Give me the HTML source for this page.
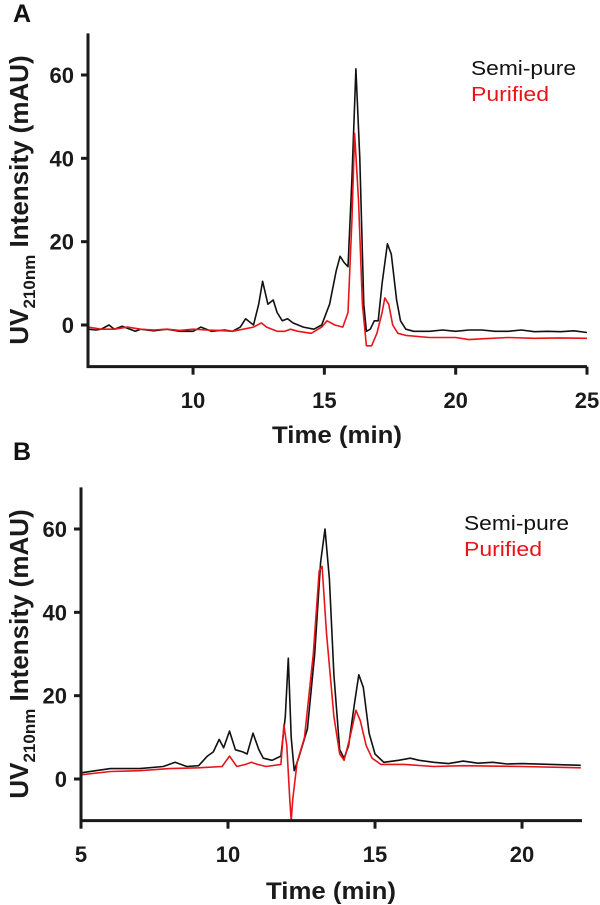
<!DOCTYPE html>
<html><head><meta charset="utf-8"><style>
body{margin:0;background:#fff}
svg{display:block;font-family:"Liberation Sans",Arial,sans-serif}
</style></head><body>
<svg id="c" width="600" height="905" viewBox="0 0 600 905" xmlns="http://www.w3.org/2000/svg"></svg>
<script>
// Panel A data
const aSemiT=[6.0,6.3,6.5,6.8,7.0,7.3,7.5,7.8,8,8.5,9,9.5,10,10.3,10.7,11.2,11.5,11.8,12.0,12.3,12.5,12.65,12.85,13.05,13.2,13.4,13.6,13.8,14.0,14.2,14.6,14.9,15.2,15.45,15.6,15.75,15.9,16.05,16.2,16.35,16.5,16.6,16.75,16.9,17.05,17.2,17.4,17.55,17.75,17.9,18.1,18.4,19,19.5,20,20.5,21,21.5,22,22.5,23,23.5,24,24.5,25];
const aSemiV=[-1,-1.2,-1,0,-1,-0.3,-0.8,-1.5,-1,-1.4,-1,-1.5,-1.5,-0.5,-1.5,-1.2,-1.5,-0.5,1.5,0,5,10.5,5,6,3,1,1.5,0.5,0,-0.5,-1,0,5,13,16.5,15,14,35,61.5,40,5,-1.5,-1,1,1,10,19.5,17,6,1,-1,-1.5,-1.5,-1.2,-1.5,-1.2,-1.2,-1.5,-1.5,-1.2,-1.6,-1.5,-1.6,-1.4,-1.8];
const aPurT=[6,6.5,7,7.5,8,8.5,9,9.5,10,10.5,11,11.5,12.3,12.6,12.8,13.2,13.5,13.7,14.0,14.5,14.9,15.1,15.4,15.7,15.9,16.05,16.15,16.3,16.45,16.6,16.8,17.0,17.2,17.3,17.45,17.6,17.8,18.1,19,20,20.5,21,22,23,24,25];
const aPurV=[-0.5,-1,-1,-0.5,-1,-1.2,-1,-1.3,-1,-1.2,-1.3,-1.5,-0.5,0.5,-0.5,-1.5,-1.5,-1,-1.5,-2,-0.5,1,0,-0.5,3,25,46,30,5,-5,-5,-2,3,6.5,5,0,-2,-2.5,-3,-3,-3.5,-3.3,-3,-3.2,-3.1,-3.2];
const aXTicks=[10,15,20,25];
const yTicks=[0,20,40,60];
// Panel B data
const bSemiT=[5,5.5,6,7,7.8,8.2,8.6,9,9.3,9.5,9.7,9.85,10.05,10.25,10.5,10.65,10.85,11.05,11.2,11.5,11.8,11.95,12.05,12.15,12.25,12.4,12.7,12.95,13.15,13.3,13.45,13.6,13.8,13.95,14.1,14.3,14.45,14.6,14.8,15.0,15.3,15.8,16.2,16.5,17,17.5,18,18.5,19,19.5,20,21,22];
const bSemiV=[1.5,2,2.5,2.5,3,4,3,3.2,5.5,6.5,9.5,7.5,11.5,7,6.5,6,11,7,5,4.5,5.5,15,29,10,2,5,12,30,52,60,48,25,7,5,8,18,25,22,11,6,4,4.5,5,4.5,4,3.7,4.3,3.8,4,3.6,3.7,3.5,3.3];
const bPurT=[5,6,7,8,9,9.8,10.05,10.3,10.6,10.8,11.0,11.3,11.8,11.9,12.0,12.1,12.15,12.2,12.35,12.6,12.9,13.1,13.2,13.35,13.6,13.8,13.95,14.15,14.35,14.5,14.7,14.9,15.2,16,17,18,20,22];
const bPurV=[1,1.8,2,2.5,2.7,3,5.5,3,3.5,4,3.5,3,3.5,13,8,-5,-10,-5,4,10,30,50,51,35,15,6,4.5,10,16.5,14,8,5,3.5,3.5,3,3.2,3,2.7];
const bXTicks=[5,10,15,20];

const NS="http://www.w3.org/2000/svg";
const svg=document.getElementById('c');
function mk(tag,attrs,parent){const e=document.createElementNS(NS,tag);for(const k in attrs)e.setAttribute(k,attrs[k]);(parent||svg).appendChild(e);return e;}

function panel(o){
  const sx=t=>o.x0+(t-o.t0)/(o.t1-o.t0)*(o.x1-o.x0);
  const sy=v=>o.y0-(v)*(o.y0-o.y60)/60;
  const g=mk('g',{});
  
  
  const cp=mk('clipPath',{id:o.id+'clip'},g);
  mk('rect',{x:o.x0,y:sy(70),width:o.x1-o.x0,height:sy(-10)-sy(70)},cp);
  const draw=(T,V,col,name)=>{
    let d='';T.forEach((t,i)=>{d+=(i?'L':'M')+sx(t).toFixed(1)+','+sy(V[i]).toFixed(1);});
    const p=mk('path',{d:d,fill:'none',stroke:col,'stroke-width':1.6,'stroke-linejoin':'round','clip-path':'url(#'+o.id+'clip)'},g);
    
    
  };
  draw(o.sT,o.sV,'#111',o.id+'-semi-pure-line');
  draw(o.pT,o.pV,'#e8141a',o.id+'-purified-line');
  const ax=mk('path',{d:'M'+o.x0+','+sy(70)+'V'+sy(-10)+'H'+o.x1,fill:'none',stroke:'#1a1a1a','stroke-width':3},g);
  
  
  yTicks.forEach(v=>{
    mk('line',{x1:o.x0-7,x2:o.x0,y1:sy(v),y2:sy(v),stroke:'#1a1a1a','stroke-width':3},g);
    const t=mk('text',{x:o.x0-14,y:sy(v)+8,'text-anchor':'end','font-size':22,'font-weight':'bold',fill:'#1a1a1a'},g);
    t.textContent=v;
    
    
  });
  o.xt.forEach(v=>{
    mk('line',{x1:sx(v),x2:sx(v),y1:sy(-10),y2:sy(-10)+8,stroke:'#1a1a1a','stroke-width':3},g);
    const t=mk('text',{x:sx(v),y:o.tickY,'text-anchor':'middle','font-size':22,'font-weight':'bold',fill:'#1a1a1a'},g);
    t.textContent=v;
    
    
  });
  const xt=mk('text',{x:o.titleX,y:o.titleY,'text-anchor':'middle','font-size':24,'font-weight':'bold',fill:'#1a1a1a',textLength:130,lengthAdjust:'spacingAndGlyphs'},g);
  xt.textContent='Time (min)';
  
  
  const cy=(sy(70)+sy(-10))/2;
  const yt=mk('text',{x:0,y:0,transform:'translate(28,'+cy+') rotate(-90)','text-anchor':'middle','font-size':26,'font-weight':'bold',fill:'#1a1a1a'},g);
  yt.innerHTML='UV<tspan font-size="17" dy="7">210nm</tspan><tspan dy="-7"> Intensity (mAU)</tspan>';
  
  
  const l1=mk('text',{x:o.legX,y:o.legY,'font-size':20,fill:'#111',textLength:105,lengthAdjust:'spacingAndGlyphs'},g);
  l1.textContent='Semi-pure';
  
  
  const l2=mk('text',{x:o.legX,y:o.legY+26,'font-size':20,fill:'#e8141a',textLength:78,lengthAdjust:'spacingAndGlyphs'},g);
  l2.textContent='Purified';
  
  
  const pl=mk('text',{x:13,y:o.letterY,'font-size':25,'font-weight':'bold',fill:'#111'},g);
  pl.textContent=o.letter;
  
  
}
panel({id:'a',letter:'A',letterY:22,x0:88,x1:587,t0:6,t1:25,y0:325,y60:75,sT:aSemiT,sV:aSemiV,pT:aPurT,pV:aPurV,xt:aXTicks,tickY:408,titleX:337,titleY:443,legX:471,legY:75});
panel({id:'b',letter:'B',letterY:460,x0:81,x1:582,t0:5,t1:22.04,y0:779,y60:529,sT:bSemiT,sV:bSemiV,pT:bPurT,pV:bPurV,xt:bXTicks,tickY:862,titleX:331,titleY:899,legX:464,legY:530});
</script>
</body></html>
